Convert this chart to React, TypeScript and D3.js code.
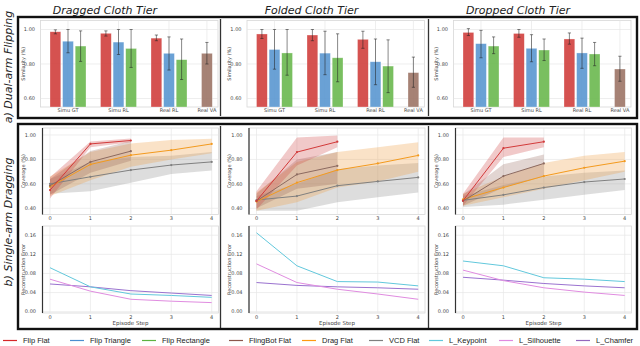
import React from "react";
import * as d3 from "d3";

const W = 640;
const H = 346;

const tiers = ["Dragged Cloth Tier", "Folded Cloth Tier", "Dropped Cloth Tier"];
const categories = ["Simu GT", "Simu RL", "Real RL", "Real VA"];
const steps = [0, 1, 2, 3, 4];
const simTicks = [0.6, 0.8, 1.0];
const covTicks = [0.4, 0.6, 0.8, 1.0];
const errTicks = [0, 0.04, 0.08, 0.12, 0.16];

// similarity, rows = tiers, cols = Simu GT / Simu RL / Real RL
const flipFlatMean = [[0.987, 0.978, 0.95], [0.974, 0.968, 0.943], [0.983, 0.977, 0.945]];
const flipFlatLo = [[0.975, 0.962, 0.935], [0.948, 0.935, 0.891], [0.965, 0.955, 0.915]];
const flipFlatHi = [[0.998, 0.992, 0.968], [1.0, 1.0, 0.99], [1.005, 1.0, 0.98]];
const flipTriMean = [[0.932, 0.927, 0.862], [0.884, 0.863, 0.813], [0.918, 0.891, 0.864]];
const flipTriLo = [[0.865, 0.855, 0.765], [0.77, 0.738, 0.68], [0.836, 0.813, 0.775]];
const flipTriHi = [[1.0, 1.0, 0.957], [1.0, 0.99, 0.945], [0.995, 0.97, 0.95]];
const flipRectMean = [[0.904, 0.89, 0.825], [0.864, 0.836, 0.788], [0.904, 0.881, 0.858]];
const flipRectLo = [[0.815, 0.78, 0.71], [0.735, 0.697, 0.634], [0.86, 0.82, 0.79]];
const flipRectHi = [[0.992, 1.0, 0.945], [1.0, 0.975, 0.94], [0.957, 0.945, 0.925]];
// Real VA, one per tier
const flingMean = [0.862, 0.75, 0.771];
const flingLo = [0.8, 0.665, 0.7];
const flingHi = [0.925, 0.84, 0.845];

// coverage per episode step
const covFlipFlat = [[0.549, 0.927, 0.955], [0.46, 0.86, 0.945], [0.462, 0.892, 0.945]];
const covFlipFlatLo = [[0.48, 0.9, 0.94], [0.39, 0.75, 0.9], [0.42, 0.82, 0.9]];
const covFlipFlatHi = [[0.655, 0.947, 0.972], [0.54, 0.98, 0.995], [0.52, 0.98, 0.98]];
const covFling = [[0.585, 0.78, 0.868], [0.46, 0.677, 0.748], [0.46, 0.664, 0.767]];
const covFlingLo = [[0.51, 0.69, 0.79], [0.4, 0.56, 0.6], [0.42, 0.57, 0.66]];
const covFlingHi = [[0.64, 0.87, 0.95], [0.52, 0.8, 0.86], [0.51, 0.76, 0.84]];
const covDrag = [[0.576, 0.759, 0.835, 0.876, 0.927], [0.455, 0.61, 0.713, 0.767, 0.833], [0.473, 0.57, 0.664, 0.732, 0.786]];
const covDragLo = [[0.5, 0.63, 0.74, 0.8, 0.85], [0.38, 0.45, 0.57, 0.62, 0.7], [0.42, 0.49, 0.56, 0.63, 0.7]];
const covDragHi = [[0.66, 0.86, 0.93, 0.96, 0.97], [0.53, 0.78, 0.86, 0.9, 0.94], [0.52, 0.66, 0.77, 0.83, 0.86]];
const covVcd = [[0.6, 0.658, 0.713, 0.754, 0.78], [0.468, 0.5, 0.585, 0.62, 0.653], [0.465, 0.51, 0.57, 0.615, 0.64]];
const covVcdLo = [[0.52, 0.54, 0.61, 0.68, 0.71], [0.38, 0.38, 0.45, 0.49, 0.53], [0.41, 0.43, 0.47, 0.51, 0.55]];
const covVcdHi = [[0.64, 0.78, 0.82, 0.83, 0.86], [0.5, 0.6, 0.72, 0.75, 0.77], [0.5, 0.59, 0.66, 0.69, 0.71]];

// reconstruction error per episode step
const errKeypoint = [[0.092, 0.052, 0.037, 0.034, 0.03], [0.165, 0.096, 0.063, 0.062, 0.054], [0.106, 0.096, 0.071, 0.068, 0.063]];
const errSilhouette = [[0.068, 0.043, 0.026, 0.022, 0.019], [0.1, 0.061, 0.047, 0.037, 0.026], [0.087, 0.065, 0.05, 0.041, 0.034]];
const errChamfer = [[0.058, 0.052, 0.044, 0.039, 0.034], [0.061, 0.055, 0.052, 0.05, 0.047], [0.072, 0.066, 0.059, 0.054, 0.05]];

const legendNames = ["Flip Flat", "Flip Triangle", "Flip Rectangle", "FlingBot Flat", "Drag Flat", "VCD Flat", "L_Keypoint", "L_Silhouette", "L_Chamfer"];
const legendColors = ["#d62728", "#4a8fd0", "#5cb341", "#8c564b", "#ff9a10", "#7f7f7f", "#62c8dc", "#e08ae0", "#9467bd"];
const legendX = [3, 70, 142, 229, 302, 369, 429, 499, 576];

const RED = "#d03f3d";
const BLUE = "#5a97d0";
const GREEN = "#6ab84f";
const BROWN = "#9c7466";

const font = "DejaVu Sans, sans-serif";
const tickCol = "#444";
const gridCol = "#e6e6e6";
const DX = 206.5;

function BarPanel({ i }: { i: number }) {
  const dx = i * DX;
  const y = d3.scaleLinear().domain([0.6, 1.0]).range([98.5, 29.5]);
  const x = d3.scaleLinear().domain([0, 3]).range([68 + dx, 219.5 + dx]);
  const bw = 10.8;
  const off = 12.6;
  const bars: { cx: number; v: number; lo: number; hi: number; c: string }[] = [];
  [0, 1, 2].forEach((g) => {
    bars.push({ cx: x(g) - off, v: flipFlatMean[i][g], lo: flipFlatLo[i][g], hi: flipFlatHi[i][g], c: RED });
    bars.push({ cx: x(g), v: flipTriMean[i][g], lo: flipTriLo[i][g], hi: flipTriHi[i][g], c: BLUE });
    bars.push({ cx: x(g) + off, v: flipRectMean[i][g], lo: flipRectLo[i][g], hi: flipRectHi[i][g], c: GREEN });
  });
  bars.push({ cx: x(3) - off, v: flingMean[i], lo: flingLo[i], hi: flingHi[i], c: BROWN });
  const labelX = categories.map((_, g) => (g < 3 ? x(g) : x(3) - off));
  const left = 40.5 + dx;
  const right = 218 + dx;
  const top = 20.5;
  const bottom = 107;
  return (
    <g>
      <rect x={left} y={top} width={right - left} height={bottom - top} fill="#fff" stroke="#d8d8d8" strokeWidth={0.8} />
      {simTicks.map((t) => (
        <line key={t} x1={left} x2={right} y1={y(t)} y2={y(t)} stroke={gridCol} strokeWidth={0.7} />
      ))}
      {labelX.map((lx, g) => (
        <line key={g} x1={lx} x2={lx} y1={top} y2={bottom} stroke={gridCol} strokeWidth={0.7} />
      ))}
      {bars.map((b, k) => (
        <rect key={k} x={b.cx - bw / 2} y={y(b.v)} width={bw} height={bottom - y(b.v)} fill={b.c} fillOpacity={0.9} stroke="#fff" strokeOpacity={0.5} strokeWidth={0.6} />
      ))}
      {bars.map((b, k) => (
        <g key={k} stroke="#222" strokeOpacity={0.6} strokeWidth={0.9}>
          <line x1={b.cx} x2={b.cx} y1={y(b.lo)} y2={y(b.hi)} />
          <line x1={b.cx - 1.6} x2={b.cx + 1.6} y1={y(b.lo)} y2={y(b.lo)} />
          <line x1={b.cx - 1.6} x2={b.cx + 1.6} y1={y(b.hi)} y2={y(b.hi)} />
        </g>
      ))}
      {simTicks.map((t) => (
        <text key={t} x={35 + dx} y={y(t)} dy="0.35em" textAnchor="end" fontSize={5} fill={tickCol} fontFamily={font}>
          {d3.format(".2f")(t)}
        </text>
      ))}
      {categories.map((c, g) => (
        <text key={c} x={labelX[g]} y={110.5} dy="0.35em" textAnchor="middle" fontSize={5} fill={tickCol} fontFamily={font}>
          {c}
        </text>
      ))}
      <text transform={`translate(${23 + dx},${(top + bottom) / 2}) rotate(-90)`} textAnchor="middle" dy="0.35em" fontSize={5} fill={tickCol} fontFamily={font}>
        Similarity (%)
      </text>
      <text x={105 + dx} y={10} dy="0.35em" textAnchor="middle" fontSize={11} fontStyle="italic" fill="#222" fontFamily={font}>
        {tiers[i]}
      </text>
    </g>
  );
}

type Series = { v: number[]; lo?: number[]; hi?: number[]; line: string; band?: string };

function LinePanel({ i, row }: { i: number; row: "cov" | "err" }) {
  const dx = i * DX;
  const x = d3.scaleLinear().domain([0, 4]).range([50 + dx, 211.7 + dx]);
  const isCov = row === "cov";
  const y = isCov
    ? d3.scaleLinear().domain([0.4, 1.0]).range([208.3, 135])
    : d3.scaleLinear().domain([0, 0.16]).range([311.7, 235.2]);
  const top = isCov ? 128 : 226;
  const bottom = isCov ? 214.5 : 313;
  const left = 42.5 + dx;
  const right = 218.5 + dx;
  const ticks = isCov ? covTicks : errTicks;
  const series: Series[] = isCov
    ? [
        { v: covVcd[i], lo: covVcdLo[i], hi: covVcdHi[i], line: "#808080", band: "rgba(150,150,150,0.32)" },
        { v: covDrag[i], lo: covDragLo[i], hi: covDragHi[i], line: "#f39a1e", band: "rgba(240,160,70,0.3)" },
        { v: covFling[i], lo: covFlingLo[i], hi: covFlingHi[i], line: "#8c6a60", band: "rgba(140,86,75,0.25)" },
        { v: covFlipFlat[i], lo: covFlipFlatLo[i], hi: covFlipFlatHi[i], line: "#d23a3a", band: "rgba(205,60,60,0.28)" },
      ]
    : [
        { v: errChamfer[i], line: "#9a72cf" },
        { v: errSilhouette[i], line: "#e08ce0" },
        { v: errKeypoint[i], line: "#62c8dc" },
      ];
  const line = d3
    .line<number>()
    .x((_, k) => x(steps[k]))
    .y((d) => y(d));
  const clipId = `clip-${row}-${i}`;
  return (
    <g>
      <defs>
        <clipPath id={clipId}>
          <rect x={left} y={top} width={right - left} height={bottom - top} />
        </clipPath>
      </defs>
      <rect x={left} y={top} width={right - left} height={bottom - top} fill="#fff" stroke="#d8d8d8" strokeWidth={0.8} />
      {ticks.map((t) => (
        <line key={t} x1={left} x2={right} y1={y(t)} y2={y(t)} stroke={gridCol} strokeWidth={0.7} />
      ))}
      {steps.map((s) => (
        <line key={s} x1={x(s)} x2={x(s)} y1={top} y2={bottom} stroke={gridCol} strokeWidth={0.7} />
      ))}
      <g clipPath={`url(#${clipId})`}>
        {series.map((s, k) =>
          s.lo && s.hi ? (
            <path
              key={k}
              d={
                d3
                  .area<number>()
                  .x((_, j) => x(steps[j]))
                  .y0((_, j) => y(s.lo![j]))
                  .y1((_, j) => y(s.hi![j]))(s.v) || ""
              }
              fill={s.band}
            />
          ) : null
        )}
        {series.map((s, k) => (
          <g key={k}>
            <path d={line(s.v) || ""} fill="none" stroke={s.line} strokeWidth={1} />
            {isCov && s.v.map((d, j) => <circle key={j} cx={x(steps[j])} cy={y(d)} r={1.1} fill={s.line} />)}
          </g>
        ))}
      </g>
      <line x1={left} x2={left} y1={top} y2={bottom} stroke="#333" strokeWidth={1.2} />
      {ticks.map((t) => (
        <text key={t} x={36 + dx} y={y(t)} dy="0.35em" textAnchor="end" fontSize={5} fill={tickCol} fontFamily={font}>
          {d3.format(".2f")(t)}
        </text>
      ))}
      {steps.map((s) => (
        <text key={s} x={x(s)} y={bottom + 4} dy="0.35em" textAnchor="middle" fontSize={5} fill={tickCol} fontFamily={font}>
          {s}
        </text>
      ))}
      <text transform={`translate(${23 + dx},${(top + bottom) / 2}) rotate(-90)`} textAnchor="middle" dy="0.35em" fontSize={5} fill={tickCol} fontFamily={font}>
        {isCov ? "Coverage (%)" : "Reconstruction Error"}
      </text>
      {!isCov && (
        <text x={(left + right) / 2} y={323} dy="0.35em" textAnchor="middle" fontSize={5.5} fill={tickCol} fontFamily={font}>
          Episode Step
        </text>
      )}
    </g>
  );
}

export default function App() {
  return (
    <svg width={W} height={H} style={{ position: "absolute", left: 0, top: 0, background: "#fff" }}>
      <rect width={W} height={H} fill="#fff" />
      {[0, 1, 2].map((i) => (
        <BarPanel key={`b${i}`} i={i} />
      ))}
      {[0, 1, 2].map((i) => (
        <LinePanel key={`c${i}`} i={i} row="cov" />
      ))}
      {[0, 1, 2].map((i) => (
        <LinePanel key={`e${i}`} i={i} row="err" />
      ))}
      {[220.5, 428.5].map((sx) => (
        <g key={sx}>
          <line x1={sx} x2={sx} y1={19} y2={116} stroke="#333" strokeWidth={1.3} />
          <line x1={sx} x2={sx} y1={126} y2={328} stroke="#333" strokeWidth={1.3} />
        </g>
      ))}
      <rect x={18} y={17} width={619} height={101} fill="none" stroke="#111" strokeWidth={2.4} />
      <rect x={18} y={124} width={619} height={205} fill="none" stroke="#111" strokeWidth={2.4} />
      <text transform="translate(8,67) rotate(-90)" textAnchor="middle" dy="0.35em" fontSize={11} fontStyle="italic" fill="#222" fontFamily={font}>
        a) Dual-arm Flipping
      </text>
      <text transform="translate(8,222) rotate(-90)" textAnchor="middle" dy="0.35em" fontSize={11} fontStyle="italic" fill="#222" fontFamily={font}>
        b) Single-arm Dragging
      </text>
      {legendNames.map((n, k) => (
        <g key={n}>
          <line x1={legendX[k]} x2={legendX[k] + 14} y1={340.5} y2={340.5} stroke={legendColors[k]} strokeWidth={1.2} />
          <text x={legendX[k] + 20} y={340.5} dy="0.35em" fontSize={7.5} fill="#222" fontFamily="Liberation Sans, Arial, sans-serif">
            {n}
          </text>
        </g>
      ))}
    </svg>
  );
}
